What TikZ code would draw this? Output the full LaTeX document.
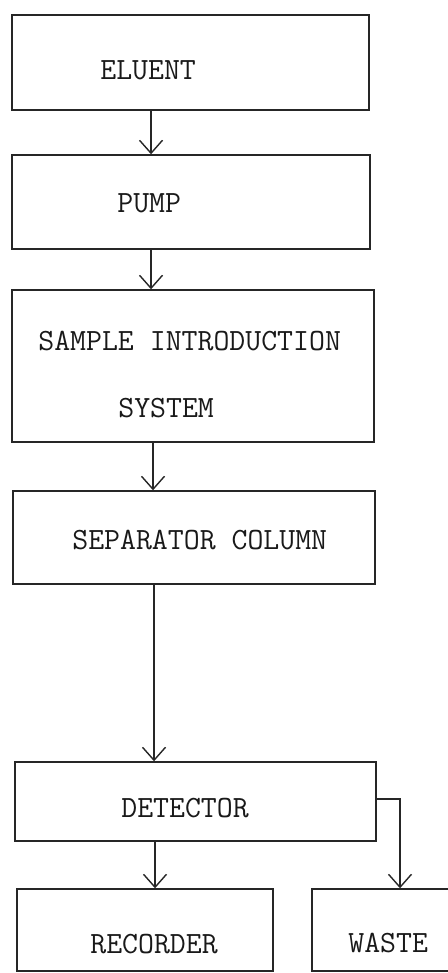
\documentclass[tikz,border=0pt]{standalone}
\usetikzlibrary{arrows.meta}
\begin{document}
\begin{tikzpicture}[x=0.02cm,y=-0.02cm,
    box/.style={draw=black!85,line width=0.8pt,inner sep=0pt},
    lbl/.style={anchor=base west,inner sep=0pt,font=\fontsize{17.6}{20}\selectfont\ttfamily,text=black!90},
    flow/.style={draw=black!85,line width=0.8pt,-{Straight Barb[length=2.6mm,width=4.6mm,line width=0.8pt]}}]
    \useasboundingbox (0,0) rectangle (447,973);
    % boxes
    \node[box,minimum width=7.14cm,minimum height=1.9cm] (eluent) at (190.5,62.5) {};
    \node[box,minimum width=7.16cm,minimum height=1.88cm] (pump) at (191,202) {};
    \node[box,minimum width=7.24cm,minimum height=3.04cm] (sample) at (193,366) {};
    \node[box,minimum width=7.24cm,minimum height=1.86cm] (sep) at (194,537.5) {};
    \node[box,minimum width=7.22cm,minimum height=1.58cm] (det) at (195.5,801.5) {};
    \node[box,minimum width=5.12cm,minimum height=1.64cm] (rec) at (145,930) {};
    \node[box,minimum width=3.16cm,minimum height=1.64cm] (waste) at (391,930) {};
    % texts
    \node[lbl] (eluent-t) at (100,80) {ELUENT};
    \node[lbl] (pump-t) at (117,213) {PUMP};
    \node[lbl] (sample-t) at (38,350) {SAMPLE INTRODUCTION};
    \node[lbl] (system-t) at (118,417) {SYSTEM};
    \node[lbl] (sep-t) at (72,549) {SEPARATOR COLUMN};
    \node[lbl] (det-t) at (121,817) {DETECTOR};
    \node[lbl] (rec-t) at (90,953) {RECORDER};
    \node[lbl] (waste-t) at (348,952) {WASTE};
    % flow
    \draw[flow] ([xshift=-0.79cm]eluent.south) -- ([xshift=-0.79cm]eluent.south |- pump.north);
    \draw[flow] ([xshift=-0.8cm]pump.south) -- ([xshift=-0.8cm]pump.south |- sample.north);
    \draw[flow] ([xshift=-0.8cm]sample.south) -- ([xshift=-0.8cm]sample.south |- sep.north);
    \draw[flow] ([xshift=-0.8cm]sep.south) -- ([xshift=-0.8cm]sep.south |- det.north);
    \draw[flow] ([xshift=-0.81cm]det.south) -- ([xshift=-0.81cm]det.south |- rec.north);
    \draw[flow] ([yshift=0.05cm]det.east) -| ([xshift=0.18cm]waste.north);
\end{tikzpicture}
\end{document}
